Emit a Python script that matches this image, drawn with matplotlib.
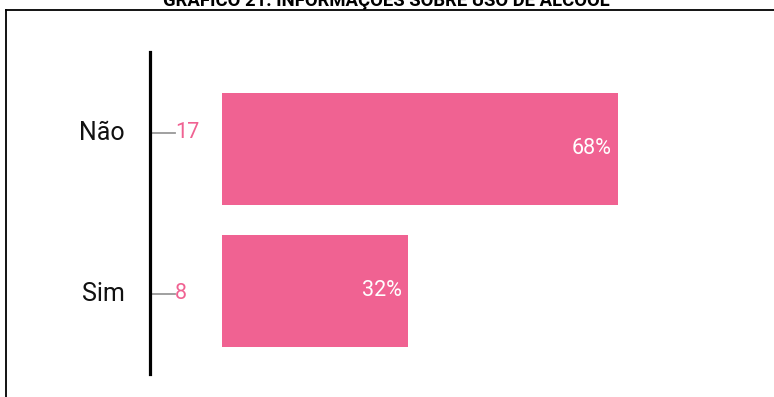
import matplotlib.pyplot as plt
from matplotlib.lines import Line2D

categorias = ["Sim", "Não"]
contagens = [8, 17]
percentuais = ["32%", "68%"]
titulo = "GRÁFICO 21: INFORMAÇÕES SOBRE USO DE ÁLCOOL"

rosa = "#F06292"
W, H = 774, 397

plt.rcParams["font.family"] = ["Roboto", "DejaVu Sans"]

fig = plt.figure(figsize=(W / 100, H / 100), dpi=100)

# axes box in pixels: left spine at x=150, spans y 52..374
ax_l, ax_r, ax_t, ax_b = 150, 740, 52, 374
ax = fig.add_axes([ax_l / W, 1 - ax_b / H, (ax_r - ax_l) / W, (ax_b - ax_t) / H])

px_por_unidade = 23.3
zero_px = 222
ax.set_xlim(-(zero_px - ax_l) / px_por_unidade, (ax_r - zero_px) / px_por_unidade)
ax.set_ylim(-0.585, 1.683)

pos = range(len(categorias))
ax.barh(pos, contagens, height=0.79, color=rosa, left=0)

# value labels inside bars
for i, (c, p) in enumerate(zip(contagens, percentuais)):
    ax.text(c - 0.3, i, p, color="white", fontsize=15.5, ha="right", va="center")

# count labels next to the axis, with short gray leaders
deslocamento = [-0.02, 1.113]
x0 = ax.get_xlim()[0]
for i, c in enumerate(contagens):
    y = deslocamento[i]
    ax.plot([x0, x0 + 25 / px_por_unidade], [y, y],
            color="#999999", lw=1.3, clip_on=False)
    ax.text(x0 + 25 / px_por_unidade, y, str(c), color=rosa,
            fontsize=15.5, ha="left", va="center")
    ax.text(x0 - 25 / px_por_unidade, y, categorias[i], color="#111111",
            fontsize=18, ha="right", va="center")

for s in ["top", "right", "bottom"]:
    ax.spines[s].set_visible(False)
ax.spines["left"].set_linewidth(2.3)
ax.spines["left"].set_color("black")
ax.set_xticks([])
ax.set_yticks([])

# outer frame
fig.add_artist(Line2D([6 / W, 6 / W], [0, 1 - 10 / H], color="black", lw=1.3))
fig.add_artist(Line2D([6 / W, 1], [1 - 10 / H, 1 - 10 / H], color="black", lw=1.3))

fig.text(386 / W, 1 - 6 / H, titulo, fontsize=13.3, fontweight="bold",
         fontstretch="condensed", ha="center", va="baseline")

fig.savefig("out.png", dpi=100)
